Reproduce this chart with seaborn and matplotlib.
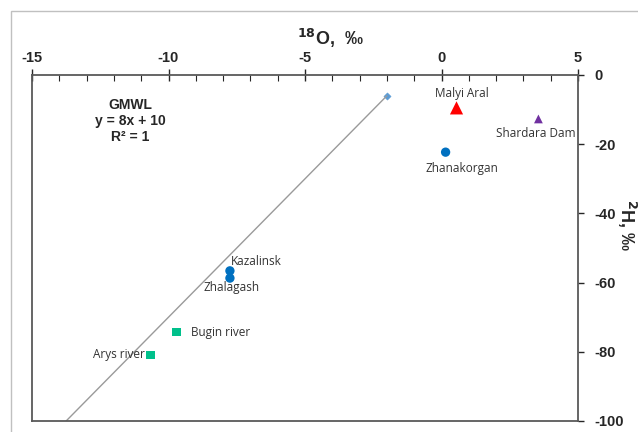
import matplotlib
matplotlib.use('Agg')
import matplotlib.pyplot as plt
import seaborn as sns
import pandas as pd
from matplotlib.patches import Rectangle
from matplotlib.ticker import MultipleLocator

# Dados
locais = ['Malyi Aral', 'Shardara Dam', 'Zhanakorgan', 'Kazalinsk', 'Zhalagash', 'Bugin river', 'Arys river']
d18O = [0.55, 3.55, 0.15, -7.75, -7.75, -9.7, -10.65]
d2H = [-9.5, -12.7, -22.3, -56.6, -58.7, -74.3, -80.9]
grupos = ['lago', 'represa', 'cidade', 'cidade', 'cidade', 'rio', 'rio']

# Reta meteórica global (GMWL)
gmwl_x = [-13.75, -2.0]
gmwl_y = [-100.0, -6.0]

df = pd.DataFrame({'local': locais, 'x': d18O, 'y': d2H, 'grupo': grupos})

sns.set_style('white')
plt.rcParams['font.family'] = ['Liberation Sans', 'DejaVu Sans']
plt.rcParams['axes.unicode_minus'] = False

fig = plt.figure(figsize=(6.38, 4.32), dpi=100)
ax = fig.add_axes([32/638, 1 - 421/432, 546/638, 346/432])

# moldura externa cinza
fig.add_artist(Rectangle((11/638, -0.1), 1.0, 1 - 11/432 + 0.1, transform=fig.transFigure,
                         fill=False, edgecolor='#c0c0c0', lw=1.0))

sns.lineplot(x=gmwl_x, y=gmwl_y, ax=ax, color='#9a9a9a', lw=1.0)
sns.scatterplot(x=gmwl_x[1:], y=gmwl_y[1:], ax=ax, marker='D', color='#5b9bd5', s=14, edgecolor='#5b9bd5')

estilos = {
    'lago': dict(marker='^', color='#ff0000', s=90),
    'represa': dict(marker='^', color='#7030a0', s=40),
    'cidade': dict(marker='o', color='#0070c0', s=45),
    'rio': dict(marker='s', color='#00c08b', s=38),
}
for g, st in estilos.items():
    sub = df[df['grupo'] == g]
    sns.scatterplot(data=sub, x='x', y='y', ax=ax, marker=st['marker'], color=st['color'],
                    s=st['s'], edgecolor='none', zorder=3)

# posição dos rótulos (offset em pontos)
rot = {
    'Malyi Aral': ((4, 6), 'center', 'bottom'),
    'Shardara Dam': ((-2, -6), 'center', 'top'),
    'Zhanakorgan': ((12, -7), 'center', 'top'),
    'Kazalinsk': ((1, 2), 'left', 'bottom'),
    'Zhalagash': ((1, -2), 'center', 'top'),
    'Bugin river': ((10, 0), 'left', 'center'),
    'Arys river': ((-4, 0), 'right', 'center'),
}
for _, r in df.iterrows():
    off, ha, va = rot[r['local']]
    ax.annotate(r['local'], (r['x'], r['y']), xytext=off, textcoords='offset points',
                ha=ha, va=va, fontsize=8.5, color='#333333', family=['Open Sans', 'DejaVu Sans'])

fig.text(130/638, 1 - 121/432, 'GMWL\ny = 8x + 10\nR² = 1', ha='center', va='center',
         fontsize=10, fontweight='bold', linespacing=1.15)

ax.set_xlim(-15, 5)
ax.set_ylim(-100, 0)
ax.xaxis.set_major_locator(MultipleLocator(5))
ax.xaxis.set_minor_locator(MultipleLocator(1))
ax.yaxis.set_major_locator(MultipleLocator(20))
ax.xaxis.tick_top()
ax.yaxis.tick_right()
ax.tick_params(axis='x', which='major', direction='inout', length=8, width=1, labelsize=10.5,
               top=True, bottom=False, pad=3)
ax.tick_params(axis='x', which='minor', direction='in', length=4, width=0.8, top=True, bottom=False)
ax.tick_params(axis='y', which='major', direction='out', length=4, width=1, labelsize=10.5,
               right=True, left=False, pad=8)
for lab in ax.get_xticklabels() + ax.get_yticklabels():
    lab.set_fontweight('bold')
for sp in ax.spines.values():
    sp.set_color('#595959')
    sp.set_linewidth(1.3)

ax.set_xlabel('')
ax.set_ylabel('')
fig.text(330/638, 1 - 38/432, r'$^{\mathbf{18}}$O,  ‰', ha='center', va='center', fontsize=13, fontweight='bold')
fig.text(627/638, 1 - 225/432, r'$^{\mathbf{2}}$H, ‰', ha='center', va='center', fontsize=13,
         fontweight='bold', rotation=-90)

fig.savefig('out.png', dpi=100)
